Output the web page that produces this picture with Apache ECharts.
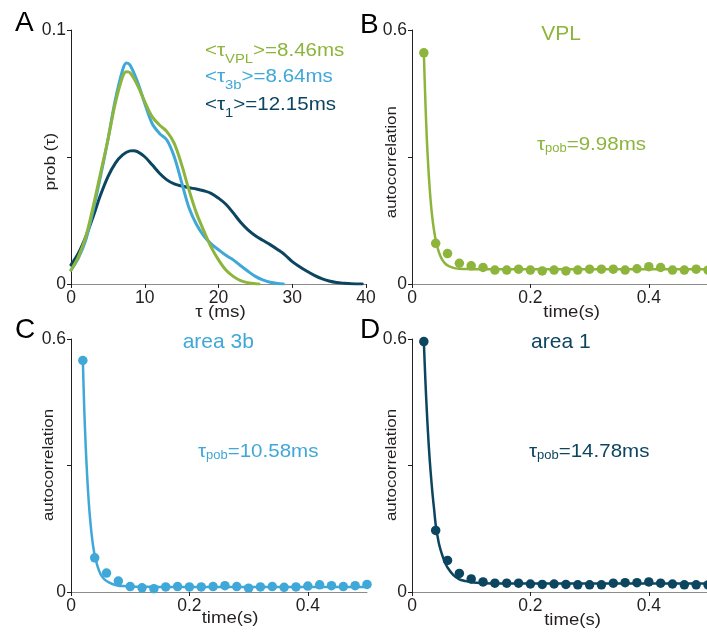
<!DOCTYPE html>
<html>
<head>
<meta charset="utf-8">
<script src="https://cdn.jsdelivr.net/npm/echarts@6/dist/echarts.min.js"></script>
<style>html,body{margin:0;padding:0;background:#fff}#c{width:707px;height:635px}</style>
</head>
<body>
<div id="c"></div>
<script>
// ---- Panel A: distributions of tau (ms) ----
const vplX = [0,1,2,3,4,5,6,7,7.5,8,9,10,11,12,13,14,15,16,17,18,19,20,21,22,23,24,25,25.5];
const vplY = [0.0055,0.0107,0.0186,0.0304,0.0436,0.0567,0.0711,0.0816,0.0836,0.0832,0.0783,0.0718,0.0659,0.0626,0.0600,0.0554,0.047,0.037,0.028,0.021,0.0145,0.0095,0.0055,0.003,0.0013,0.0005,0.0001,0];
const b3X = [0,1,2,3,4,5,6,7,7.5,8,9,10,11,12,13,14,15,16,17,18,19,20,21,22,23,24,25,26,27,28,28.8];
const b3Y = [0.0055,0.0102,0.0173,0.029,0.0423,0.0567,0.0724,0.0843,0.087,0.0862,0.0797,0.0711,0.0632,0.0593,0.0567,0.0501,0.040,0.030,0.0235,0.019,0.0158,0.0135,0.0113,0.0095,0.0072,0.005,0.003,0.0016,0.0007,0.0002,0];
const a1X = [0,1,2,3,4,5,6,7,8,8.5,9,10,11,12,13,14,15,16,17,18,19,20,21,22,23,24,25,26,27,28,29,30,31,32,33,34,35,36,37,38,39.5];
const a1Y = [0.0075,0.0121,0.0186,0.0265,0.035,0.0422,0.0475,0.0508,0.0524,0.0525,0.0521,0.0501,0.0469,0.0436,0.041,0.0394,0.0386,0.0379,0.0374,0.0367,0.0357,0.0338,0.0314,0.028,0.0243,0.0213,0.019,0.0172,0.0155,0.0136,0.0115,0.0088,0.0068,0.005,0.0034,0.0021,0.0012,0.0006,0.0003,0.0001,0];
const tauTicks = [0,10,20,30,40];

// ---- Panels B-D: autocorrelation vs time lag (s) ----
const lagT = [0.02,0.04,0.06,0.08,0.10,0.12,0.14,0.16,0.18,0.20,0.22,0.24,0.26,0.28,0.30,0.32,0.34,0.36,0.38,0.40,0.42,0.44,0.46,0.48,0.50];
const vplAC = [0.546,0.096,0.072,0.049,0.043,0.039,0.033,0.033,0.035,0.033,0.031,0.033,0.031,0.033,0.035,0.035,0.035,0.033,0.036,0.041,0.039,0.033,0.033,0.035,0.033];
const b3AC = [0.549,0.081,0.045,0.026,0.013,0.010,0.008,0.012,0.013,0.012,0.012,0.013,0.015,0.013,0.009,0.012,0.013,0.011,0.012,0.014,0.017,0.015,0.013,0.015,0.018];
const a1AC = [0.594,0.146,0.075,0.044,0.031,0.024,0.021,0.021,0.021,0.019,0.018,0.019,0.018,0.017,0.017,0.017,0.021,0.022,0.022,0.024,0.021,0.019,0.017,0.017,0.017];
const fitT = [0.02,0.0225,0.025,0.0275,0.03,0.0325,0.035,0.0375,0.04,0.045,0.05,0.055,0.06,0.07,0.08,0.09,0.1,0.12,0.15,0.3,0.5];
const vplFit = [0.546,0.435,0.344,0.277,0.223,0.181,0.149,0.124,0.104,0.077,0.060,0.050,0.044,0.038,0.036,0.0355,0.035,0.035,0.035,0.035,0.035];
const b3Fit = [0.549,0.430,0.340,0.270,0.213,0.170,0.135,0.108,0.088,0.060,0.042,0.032,0.026,0.019,0.015,0.014,0.013,0.0125,0.012,0.012,0.012];
const a1Fit = [0.594,0.505,0.430,0.366,0.312,0.267,0.228,0.194,0.160,0.118,0.092,0.072,0.058,0.040,0.030,0.026,0.023,0.021,0.020,0.020,0.020];
const timeTicks = [0,0.2,0.4];
const acTicks = [0,0.3,0.6];
const acLabels = [0,0.6];
const probTicks = [0,0.05,0.1];
const probLabels = [0,0.1];

const GREEN = '#8db53c', BLUE = '#40a8d8', DARK = '#0c4560', INK = '#231f20';
const FF = '"Liberation Sans", Arial, Helvetica, sans-serif';

const zip = (xs, ys) => xs.map((x, i) => [x, ys[i]]);

function xAxisCfg(gi, min, max, ticks, isTau) {
  return {
    type: 'value', gridIndex: gi, min, max,
    interval: isTau ? 10 : undefined,
    splitLine: {show: false},
    axisLine: {show: true, onZero: false, lineStyle: {color: '#8c8c8c', width: 1}},
    axisTick: {show: true, length: 4, lineStyle: {color: INK, width: 1}, customValues: ticks},
    axisLabel: {show: true, margin: 5, fontSize: 17.5, fontFamily: FF, color: INK, customValues: ticks,
      formatter: v => String(v)}
  };
}
function yAxisCfg(gi, min, max, ticks, labels) {
  return {
    type: 'value', gridIndex: gi, min, max,
    splitLine: {show: false},
    axisLine: {show: true, onZero: false, lineStyle: {color: INK, width: 1}},
    axisTick: {show: true, length: 4, lineStyle: {color: INK, width: 1}, customValues: ticks},
    axisLabel: {show: true, margin: 5, fontSize: 17.5, fontFamily: FF, color: INK, customValues: labels,
      formatter: v => String(v)}
  };
}

function kde(name, xs, ys, color, z) {
  return {type: 'line', name, xAxisIndex: 0, yAxisIndex: 0, data: zip(xs, ys), showSymbol: false,
    smooth: 0.35, lineStyle: {color, width: 3, cap: 'round', join: 'round'}, z, silent: true};
}
function fit(gi, ys, color) {
  return {type: 'line', xAxisIndex: gi, yAxisIndex: gi, data: zip(fitT, ys), showSymbol: false,
    smooth: 0.3, lineStyle: {color, width: 2.5, cap: 'round', join: 'round'}, z: 2, silent: true};
}
function dots(gi, ys, color) {
  return {type: 'scatter', xAxisIndex: gi, yAxisIndex: gi, data: zip(lagT, ys), symbol: 'circle',
    symbolSize: 9.5, itemStyle: {color, opacity: 1}, z: 3, silent: true, clip: false};
}

function T(x, y, text, o) {
  o = o || {};
  return {
    type: 'text', x, y, rotation: o.rot || 0, scaleX: o.sx || 1, scaleY: 1, z: 10, silent: true,
    style: {text, fontSize: o.fs || 16, fontFamily: FF, fill: o.fill || INK,
      align: o.align || 'center', verticalAlign: o.va || 'middle', rich: o.rich}
  };
}
function legendRich(color) {
  return {
    m: {fontSize: 18, lineHeight: 18, verticalAlign: 'top', fill: color, fontFamily: FF},
    s: {fontSize: 13, lineHeight: 13, verticalAlign: 'top', padding: [11, 0, 0, 0], fill: color, fontFamily: FF}
  };
}
function pobRich(color) {
  return {
    m: {fontSize: 19, lineHeight: 19, verticalAlign: 'top', fill: color, fontFamily: FF},
    s: {fontSize: 12, lineHeight: 12, verticalAlign: 'top', padding: [7, 0, 0, 0], fill: color, fontFamily: FF}
  };
}

const chart = echarts.init(document.getElementById('c'), null, {renderer: 'canvas'});
chart.setOption({
  animation: false,
  backgroundColor: '#ffffff',
  grid: [
    {left: 71, top: 30, width: 295, height: 254, containLabel: false, outerBoundsMode: 'none'},
    {left: 412, top: 30, width: 296, height: 254, containLabel: false, outerBoundsMode: 'none'},
    {left: 71, top: 339, width: 296, height: 253, containLabel: false, outerBoundsMode: 'none'},
    {left: 412, top: 339, width: 296, height: 253, containLabel: false, outerBoundsMode: 'none'}
  ],
  xAxis: [
    xAxisCfg(0, 0, 40, tauTicks, true),
    xAxisCfg(1, 0, 0.5, timeTicks, false),
    xAxisCfg(2, 0, 0.5, timeTicks, false),
    xAxisCfg(3, 0, 0.5, timeTicks, false)
  ],
  yAxis: [
    yAxisCfg(0, 0, 0.1, probTicks, probLabels),
    yAxisCfg(1, 0, 0.6, acTicks, acLabels),
    yAxisCfg(2, 0, 0.6, acTicks, acLabels),
    yAxisCfg(3, 0, 0.6, acTicks, acLabels)
  ],
  series: [
    kde('area 1', a1X, a1Y, DARK, 2),
    kde('area 3b', b3X, b3Y, BLUE, 3),
    kde('VPL', vplX, vplY, GREEN, 4),
    fit(1, vplFit, GREEN), dots(1, vplAC, GREEN),
    fit(2, b3Fit, BLUE), dots(2, b3AC, BLUE),
    fit(3, a1Fit, DARK), dots(3, a1AC, DARK)
  ],
  graphic: [
    // panel letters
    T(15, 23.5, 'A', {fs: 28, align: 'left', fill: '#000'}),
    T(360, 25.2, 'B', {fs: 28, align: 'left', fill: '#000'}),
    T(15, 330.2, 'C', {fs: 28, align: 'left', fill: '#000'}),
    T(360, 330.2, 'D', {fs: 28, align: 'left', fill: '#000'}),
    // panel A legend texts
    T(205, 42, '{m|<τ}{s|VPL}{m|>=8.46ms}', {align: 'left', va: 'top', sx: 1.14, rich: legendRich(GREEN), fill: GREEN}),
    T(205, 68, '{m|<τ}{s|3b}{m|>=8.64ms}', {align: 'left', va: 'top', sx: 1.14, rich: legendRich(BLUE), fill: BLUE}),
    T(205, 95.7, '{m|<τ}{s|1}{m|>=12.15ms}', {align: 'left', va: 'top', sx: 1.14, rich: legendRich(DARK), fill: DARK}),
    // axis names
    T(50.75, 161.7, 'prob (τ)', {fs: 15, rot: Math.PI / 2, sx: 1.15}),
    T(220.5, 312.8, 'τ (ms)', {fs: 16, sx: 1.18}),
    T(391.7, 162.2, 'autocorrelation', {fs: 15, rot: Math.PI / 2, sx: 1.13}),
    T(571.7, 312.8, 'time(s)', {fs: 16, sx: 1.16}),
    T(49, 465, 'autocorrelation', {fs: 15, rot: Math.PI / 2, sx: 1.13}),
    T(230, 619, 'time(s)', {fs: 16, sx: 1.16}),
    T(391.7, 465, 'autocorrelation', {fs: 15, rot: Math.PI / 2, sx: 1.13}),
    T(572.5, 620.5, 'time(s)', {fs: 16, sx: 1.16}),
    // titles
    T(561, 34.3, 'VPL', {fs: 21, fill: GREEN}),
    T(218.3, 342, 'area 3b', {fs: 21, fill: BLUE}),
    T(560.8, 342, 'area 1', {fs: 21, fill: DARK}),
    // tau_pob annotations
    T(537, 135.5, '{m|τ}{s|pob}{m|=9.98ms}', {align: 'left', va: 'top', sx: 1.08, rich: pobRich(GREEN), fill: GREEN}),
    T(198, 442.2, '{m|τ}{s|pob}{m|=10.58ms}', {align: 'left', va: 'top', sx: 1.08, rich: pobRich(BLUE), fill: BLUE}),
    T(529, 442.2, '{m|τ}{s|pob}{m|=14.78ms}', {align: 'left', va: 'top', sx: 1.08, rich: pobRich(DARK), fill: DARK})
  ]
});
</script>
</body>
</html>
